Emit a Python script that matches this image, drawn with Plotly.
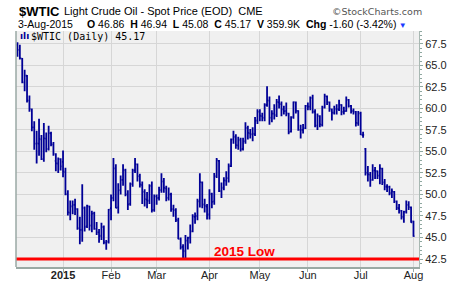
import pandas as pd
import plotly.graph_objects as go

# ---------------- data ----------------
holidays = ["2014-12-25", "2015-01-01", "2015-01-19", "2015-02-16",
            "2015-04-03", "2015-05-25", "2015-07-03"]
dates = [d for d in pd.bdate_range("2014-12-04", "2015-08-03")
         if d.strftime("%Y-%m-%d") not in holidays]

opens = [
    67.38, 66.80, 65.80, 63.00, 63.80, 60.90, 59.90, 57.80, 55.90, 55.90, 56.40, 54.10, 56.50, 55.30, 57.10, 55.80, 53.90, 53.60, 54.10,
    53.80, 52.60, 50.00, 47.90, 48.60, 48.80, 48.30, 46.10, 45.90, 48.40, 46.30, 48.60, 46.40, 47.80, 46.00, 45.60, 45.20, 46.20, 44.40, 44.50,
    48.40, 49.60, 53.00, 48.50, 50.50, 51.70, 52.80, 50.00, 48.90, 51.20, 52.80, 53.50, 52.10, 51.10, 50.30, 49.40, 49.30, 51.00, 48.20,
    49.80, 49.60, 50.50, 51.50, 50.70, 49.60, 50.00, 48.30, 48.20, 47.00, 44.80, 43.90, 43.40, 44.60, 45.00, 45.70, 47.40, 47.50, 49.20, 51.40, 48.80, 48.60,
    47.70, 50.00, 49.20, 52.10, 53.90, 50.40, 50.70, 51.60, 51.90, 53.30, 56.40, 56.70, 55.70, 56.30, 55.30, 56.20, 57.70, 57.10, 57.00, 57.00, 58.60,
    59.60, 59.10, 58.90, 60.40, 60.90, 58.90, 59.40, 59.20, 60.70, 60.50, 59.90, 59.70, 59.40, 57.30, 59.00, 60.70, 59.70, 57.50, 57.50, 57.70,
    60.30, 60.20, 61.20, 59.60, 58.00, 59.10, 58.10, 60.10, 61.40, 60.70, 59.90, 59.50, 59.90, 59.90, 60.40, 59.60, 59.70, 61.00, 60.30, 59.70, 59.60, 58.30,
    59.40, 56.90, 55.30, 52.50, 52.30, 51.70, 52.80, 52.70, 52.20, 53.00, 51.40, 50.90, 50.90, 50.20, 50.30, 49.20, 48.40, 48.10, 47.40, 48.00, 48.80, 48.50,
    46.86]
highs = [
    67.70, 67.40, 65.85, 64.50, 63.90, 61.50, 60.00, 58.50, 57.40, 58.80, 56.90, 58.30, 57.20, 58.00, 57.30, 56.10, 54.80, 54.30, 54.20,
    55.10, 53.10, 50.50, 49.30, 49.30, 49.50, 48.40, 47.40, 51.20, 48.60, 48.80, 48.70, 48.10, 48.00, 46.80, 46.00, 46.70, 46.40, 44.70, 48.30,
    50.00, 54.24, 53.50, 51.30, 52.20, 53.50, 53.00, 50.50, 51.40, 53.00, 54.24, 53.60, 52.40, 51.50, 50.60, 50.30, 51.20, 51.50, 50.00,
    50.00, 50.90, 52.48, 51.90, 51.00, 50.80, 50.20, 48.80, 48.40, 47.30, 45.00, 44.20, 45.30, 45.10, 46.50, 47.70, 47.90, 49.50, 52.48, 51.50, 49.50, 48.90,
    50.60, 50.20, 52.50, 54.24, 54.00, 51.40, 52.00, 52.70, 53.60, 56.50, 57.42, 57.00, 56.70, 56.60, 56.60, 58.40, 58.00, 57.60, 57.80, 59.00, 59.90,
    59.90, 59.50, 60.60, 62.58, 61.40, 59.80, 60.50, 61.10, 61.50, 60.80, 60.30, 60.70, 59.50, 59.10, 60.80, 60.80, 59.80, 58.10, 58.20, 60.40,
    60.70, 61.40, 61.60, 59.90, 59.40, 59.20, 60.30, 61.70, 61.50, 60.80, 60.00, 60.30, 60.50, 61.00, 60.50, 60.20, 61.40, 61.10, 60.40, 60.00, 59.70, 59.70,
    59.60, 57.30, 55.40, 53.30, 52.60, 53.50, 53.20, 52.80, 53.50, 53.10, 51.80, 51.20, 51.00, 50.70, 50.40, 49.30, 48.90, 48.20, 48.10, 49.30, 49.20, 48.60,
    46.94]
lows = [
    66.00, 65.69, 62.94, 62.00, 60.70, 59.60, 57.34, 55.20, 53.60, 54.50, 54.00, 53.80, 54.90, 55.10, 55.60, 54.50, 52.70, 52.50, 52.80,
    52.00, 49.90, 47.55, 47.00, 47.70, 47.60, 45.90, 44.20, 44.50, 45.70, 46.10, 45.80, 45.60, 45.90, 45.30, 44.40, 44.70, 44.20, 43.58, 44.30,
    47.00, 49.20, 48.40, 47.80, 50.00, 51.00, 49.80, 48.20, 48.70, 50.90, 52.50, 51.50, 50.80, 48.90, 48.60, 48.40, 48.90, 47.90, 48.00,
    48.80, 49.30, 50.20, 50.20, 49.20, 49.30, 48.00, 47.40, 46.80, 44.80, 43.60, 42.60, 42.60, 43.60, 44.30, 45.60, 46.60, 47.00, 48.50, 48.40, 47.90, 47.10,
    47.10, 48.40, 48.80, 51.90, 50.30, 49.60, 50.50, 51.00, 51.40, 53.20, 55.90, 55.30, 55.20, 55.00, 55.10, 55.90, 56.40, 56.50, 56.20, 56.80, 58.20,
    58.50, 58.50, 58.50, 60.20, 58.10, 58.40, 58.70, 59.00, 60.00, 59.10, 59.30, 59.10, 57.00, 57.20, 58.80, 59.40, 57.40, 56.51, 57.10, 57.60,
    59.80, 59.80, 59.40, 57.80, 57.50, 57.80, 57.90, 60.00, 60.40, 59.60, 58.60, 59.30, 59.30, 59.70, 59.20, 59.30, 59.60, 60.10, 59.40, 59.30, 57.90, 58.00,
    56.90, 56.60, 52.20, 51.50, 50.90, 51.60, 51.80, 51.80, 51.20, 51.10, 50.50, 50.30, 49.90, 49.60, 49.00, 48.20, 47.80, 47.10, 46.70, 47.80, 48.20, 46.70,
    45.08]
closes = [
    66.81, 65.84, 63.05, 63.82, 60.94, 59.95, 57.81, 55.91, 55.93, 56.47, 54.11, 56.52, 55.26, 57.12, 55.84, 54.73, 53.61, 54.12, 53.27,
    52.69, 50.04, 47.93, 48.65, 48.79, 48.36, 46.07, 45.89, 48.48, 46.25, 48.69, 46.39, 47.78, 45.99, 45.59, 45.15, 46.23, 44.45, 44.53, 48.24,
    49.57, 53.05, 48.45, 50.48, 51.69, 52.86, 50.02, 48.84, 51.21, 52.78, 53.53, 52.14, 51.16, 50.34, 49.45, 49.25, 50.99, 48.17, 49.76,
    49.59, 50.52, 51.53, 50.76, 49.61, 50.00, 48.29, 48.17, 47.05, 44.84, 43.88, 43.46, 44.66, 44.96, 45.72, 47.45, 47.51, 49.21, 51.43, 48.87, 48.68, 47.60,
    50.09, 49.14, 52.14, 53.98, 50.42, 50.79, 51.64, 51.91, 53.29, 56.39, 56.71, 55.74, 56.38, 55.26, 56.16, 57.74, 57.15, 56.99, 57.06, 58.58, 59.63,
    59.15, 58.93, 60.40, 60.93, 58.94, 59.39, 59.25, 60.75, 60.50, 59.88, 59.69, 59.43, 57.26, 58.98, 60.72, 59.72, 57.51, 57.51, 57.68, 60.30,
    60.20, 61.26, 59.64, 58.00, 59.13, 58.14, 60.14, 61.43, 60.77, 59.96, 59.52, 59.97, 59.92, 60.45, 59.61, 59.68, 61.01, 60.27, 59.70, 59.63, 58.33, 59.47,
    56.96, 56.93, 52.53, 52.33, 51.65, 52.78, 52.74, 52.20, 53.04, 51.41, 50.91, 50.89, 50.15, 50.36, 49.19, 48.45, 48.14, 47.39, 47.98, 48.79, 48.52, 46.77,
    45.17]
volume_label = "359.9K"
low_level = 42.5
y_ticks = [42.5, 45.0, 47.5, 50.0, 52.5, 55.0, 57.5, 60.0, 62.5, 65.0, 67.5]

assert len(dates) == len(opens) == len(highs) == len(lows) == len(closes)

idx = list(range(len(dates)))
tick_idx, tick_txt = [], []
for i, d in enumerate(dates):
    if i > 0 and d.month != dates[i - 1].month:
        tick_idx.append(i)
        tick_txt.append("<b>2015</b>" if d.month == 1 else d.strftime("%b"))

# ---------------- geometry helpers ----------------
W, H = 460, 284
ML, MR, MT, MB = 16, 41, 31, 17
PW, PH = W - ML - MR, H - MT - MB


def px(x):
    return (x - ML) / PW


def py(y):
    return (H - MB - y) / PH


NAVY = "#000096"
FONT = "Liberation Sans, Arial, sans-serif"

fig = go.Figure()
fig.add_trace(go.Ohlc(
    x=idx, open=opens, high=highs, low=lows, close=closes,
    increasing=dict(line=dict(color=NAVY, width=1.8)),
    decreasing=dict(line=dict(color=NAVY, width=1.8)),
    tickwidth=0.45, hoverinfo="skip", showlegend=False,
))

fig.add_shape(type="line", xref="paper", yref="y", x0=0, x1=1,
              y0=low_level, y1=low_level, line=dict(color="#ff0000", width=3))

chg = closes[-1] - closes[-2]
pct = chg / closes[-2] * 100

ann = []
ann.append(dict(x=px(17), y=py(11), text="<b>$WTIC</b>", font=dict(size=13, color="#000", family=FONT)))
ann.append(dict(x=px(62), y=py(11), text="Light Crude Oil - Spot Price (EOD)  CME",
                font=dict(size=11, color="#000", family=FONT)))
ann.append(dict(x=px(16), y=py(24), text=dates[-1].strftime("%-d-%b-%Y"),
                font=dict(size=10.5, color="#000", family=FONT)))
ann.append(dict(x=px(85), y=py(24),
                text=(f"<b>O</b> {opens[-1]:.2f}  <b>H</b> {highs[-1]:.2f}  <b>L</b> {lows[-1]:.2f}  "
                      f"<b>C</b> {closes[-1]:.2f}  <b>V</b> {volume_label}  <b>Chg</b> {chg:.2f} ({pct:.2f}%)"
                      f"<span style='color:#1a3cff;font-size:8px'> ▼</span>"),
                font=dict(size=10.5, color="#000", family=FONT)))
ann.append(dict(x=px(330), y=py(11), text="©StockCharts.com",
                font=dict(size=9.5, color="#555", family="DejaVu Sans, sans-serif")))
ann.append(dict(x=px(18), y=py(36), text="<b>ılı</b>",
                font=dict(size=9, color=NAVY, family="DejaVu Sans, sans-serif")))
ann.append(dict(x=px(29), y=py(36), text=f"$WTIC (Daily) {closes[-1]:.2f}",
                font=dict(size=10, color="#000", family="DejaVu Sans Mono, monospace")))
for a in ann:
    a.update(xref="paper", yref="paper", xanchor="left", yanchor="middle", showarrow=False)
    fig.add_annotation(**a)

fig.add_annotation(x=px(244), y=py(251), xref="paper", yref="paper", showarrow=False,
                   xanchor="center", yanchor="middle", text="<b>2015 Low</b>",
                   font=dict(size=13.5, color="#ff0000", family=FONT))

fig.update_layout(
    width=W, height=H,
    margin=dict(l=ML, r=MR, t=MT, b=MB, pad=0, autoexpand=False),
    paper_bgcolor="white", plot_bgcolor="#f0f0f0",
    font=dict(family=FONT, size=11, color="#222"),
    showlegend=False,
    xaxis=dict(
        range=[-0.6, len(idx) + 1.3], rangeslider=dict(visible=False),
        tickmode="array", tickvals=tick_idx, ticktext=tick_txt, automargin=False,
        showgrid=True, gridcolor="#d6d6d6", gridwidth=1,
        ticks="outside", ticklen=3, tickcolor="#9aa9a4", ticklabelstandoff=-6,
        showline=True, linecolor="#9aa9a4", linewidth=1.5,
        tickfont=dict(size=11, color="#222", family=FONT), zeroline=False, fixedrange=True,
    ),
    yaxis=dict(
        side="right", range=[41.57, 69.0], automargin=False,
        tickmode="array", tickvals=y_ticks, ticktext=[f"{v:.1f}" for v in y_ticks],
        showgrid=True, gridcolor="#d6d6d6", gridwidth=1,
        ticks="outside", ticklen=3, tickcolor="#8fa8a0",
        minor=dict(ticks="outside", ticklen=2, dtick=0.5, tick0=42.5, tickcolor="#8fa8a0", showgrid=False),
        showline=True, linecolor="#a8b8b2", linewidth=1,
        tickfont=dict(size=11, color="#222", family=FONT), zeroline=False, fixedrange=True,
    ),
)
# left frame line
fig.add_shape(type="line", xref="paper", yref="paper", x0=0, x1=0, y0=0, y1=1,
              line=dict(color="#9aa9a4", width=1.5))

fig.write_html("out.html")
